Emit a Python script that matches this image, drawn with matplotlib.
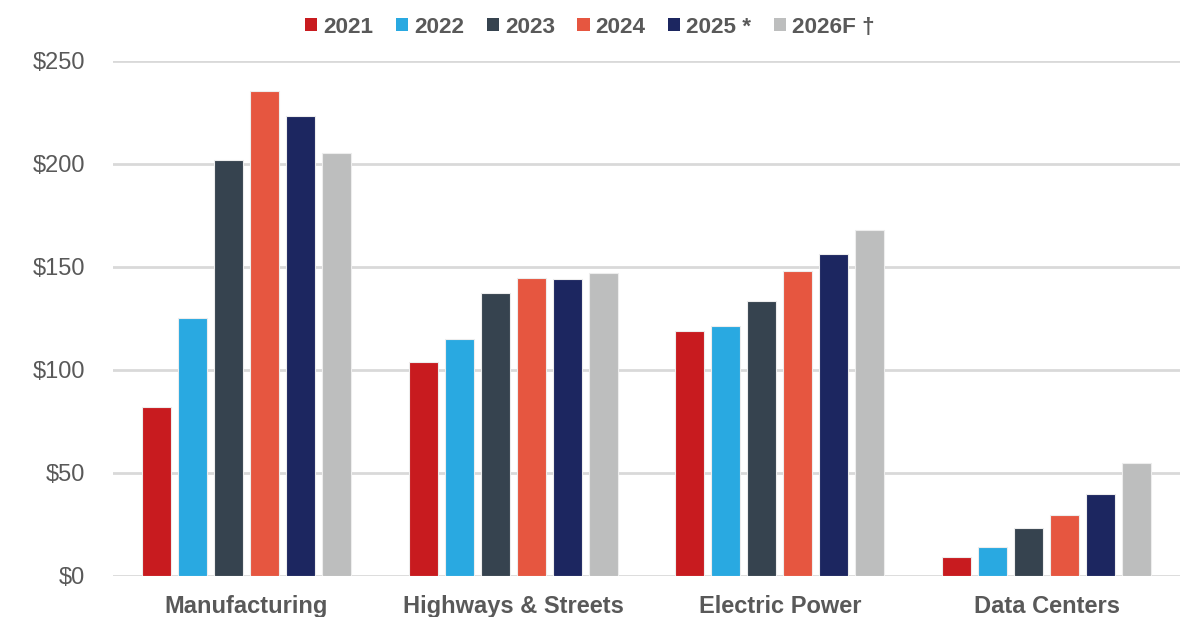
import matplotlib.pyplot as plt
from matplotlib.patches import Patch
from matplotlib.ticker import FuncFormatter
import numpy as np

plt.rcParams['font.family'] = ['Liberation Sans', 'DejaVu Sans']

# Datos por sector (miles de millones USD)
sectores = ['Manufacturing', 'Highways & Streets', 'Electric Power', 'Data Centers']
anios = ['2021', '2022', '2023', '2024', '2025 *', '2026F \u2020']
colores = ['#C81B1F', '#29A9E1', '#36434F', '#E65640', '#1C2660', '#BDBEBE']

v2021 = [82, 104, 119, 9]
v2022 = [125, 115, 121.5, 14]
v2023 = [202, 137.5, 133.5, 23.5]
v2024 = [235.5, 144.5, 148, 29.5]
v2025 = [223.5, 144, 156.5, 40]
v2026 = [205.5, 147, 168, 55]
series = [v2021, v2022, v2023, v2024, v2025, v2026]

gris_texto = '#595959'

fig = plt.figure(figsize=(11.8, 6.17), dpi=100)
ax = fig.add_axes([0.0958, 0.0665, 0.9042, 0.8347])

x = np.arange(len(sectores))
paso = 0.135
ancho = 0.109
for i, (vals, color) in enumerate(zip(series, colores)):
    ax.bar(x + (i - 2.5) * paso, vals, width=ancho, color=color,
           edgecolor='#EDEDED', linewidth=0.8, zorder=3)

ax.set_xlim(-0.5, 3.5)
ax.set_ylim(0, 250)
ax.set_yticks([0, 50, 100, 150, 200, 250])
ax.yaxis.set_major_formatter(FuncFormatter(lambda v, p: f'${v:.0f}'))
ax.grid(axis='y', color='#D9D9D9', linewidth=2, zorder=0)
ax.set_axisbelow(True)

for s in ax.spines.values():
    s.set_visible(False)

ax.tick_params(axis='y', length=0, labelsize=17, labelcolor=gris_texto, pad=20)
ax.tick_params(axis='x', length=0, labelsize=17, labelcolor=gris_texto, pad=14)
ax.set_xticks(x)
ax.set_xticklabels(sectores, fontweight='bold')

handles = [Patch(facecolor=c, edgecolor='none') for c in colores]
leg = fig.legend(handles, anios, loc='center', bbox_to_anchor=(0.5, 0.956), ncol=6,
                 frameon=False, fontsize=16.2, handlelength=0.54, handleheight=0.54,
                 handletextpad=0.27, columnspacing=1.0, borderpad=0)
for t in leg.get_texts():
    t.set_fontweight('bold')
    t.set_color(gris_texto)

fig.savefig('out.png', dpi=100)
